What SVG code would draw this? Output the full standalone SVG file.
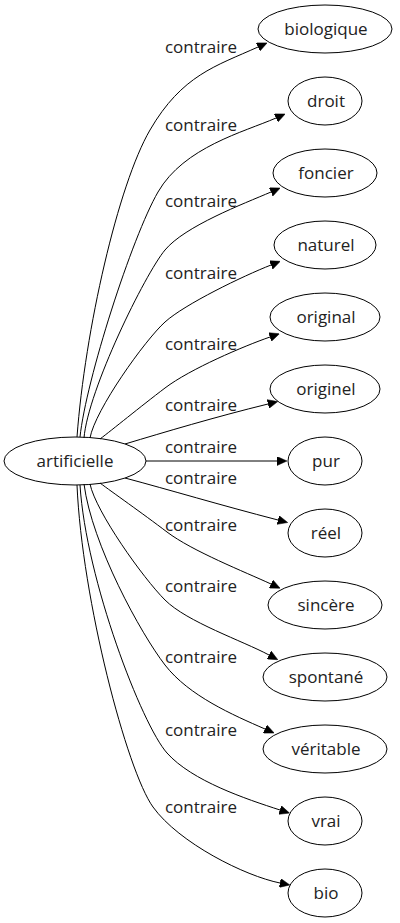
<svg xmlns="http://www.w3.org/2000/svg" width="400" height="923" viewBox="0 0 400 923">
<style>
  .node ellipse { fill: none; stroke: #000; stroke-width: 1; }
  text { font-family: "Open Sans", "DejaVu Sans", sans-serif; font-size: 17px; fill: #222; text-anchor: middle; }
  .edges path { fill: none; stroke: #000; stroke-width: 1; marker-end: url(#arrow); }
</style>
<defs>
  <marker id="arrow" markerUnits="userSpaceOnUse" viewBox="0 0 10 9" markerWidth="10" markerHeight="9" refX="0" refY="4.5" orient="auto">
    <path d="M0,0 L10,4.5 L0,9 z" fill="#000" stroke="#000" stroke-width="0.5"/>
  </marker>
</defs>
<rect width="400" height="923" fill="#fff"/>
<g class="edges" id="edges">
  <path d="M77,437 C85,330 118,185 150,130 S216,66 258,47"/>
  <path d="M80,437 C86,380 132,237 158,192 S244,132 276,118"/>
  <path d="M84,438 C88,390 145,274 165,250 S243,204 271,192"/>
  <path d="M90,438 C95,410 145,340 165,322 S243,276 271,265"/>
  <path d="M100,439 C112,430 140,407 165,388 S244,346 270,337"/>
  <path d="M125,444 C165,432 215,417 268,404"/>
  <path d="M146,461 L277,461"/>
  <path d="M125,478 C170,490 220,505 278,520"/>
  <path d="M100,483 C112,492 142,513 167,532 S245,572 271,584"/>
  <path d="M90,484 C96,512 143,578 165,600 S243,641 269,655"/>
  <path d="M84,484 C92,545 141,634 165,665 S233,715 265,729"/>
  <path d="M80,485 C86,580 142,725 167,753 S246,799 280,810"/>
  <path d="M77,485 C82,600 127,771 153,807 S245,876 280,883"/>
  <text x="201" y="53">contraire</text>
  <text x="201" y="131">contraire</text>
  <text x="201" y="207">contraire</text>
  <text x="201" y="279">contraire</text>
  <text x="201" y="350">contraire</text>
  <text x="201" y="411">contraire</text>
  <text x="201" y="453">contraire</text>
  <text x="201" y="484">contraire</text>
  <text x="201" y="531">contraire</text>
  <text x="201" y="592">contraire</text>
  <text x="201" y="663">contraire</text>
  <text x="201" y="736">contraire</text>
  <text x="201" y="813">contraire</text>
</g>
<g class="node" id="artificielle"><ellipse cx="75" cy="461" rx="71" ry="24"/><text x="75" y="467">artificielle</text></g>
<g class="node" id="biologique"><ellipse cx="325" cy="29" rx="67" ry="24"/><text x="326" y="35">biologique</text></g>
<g class="node" id="droit"><ellipse cx="325" cy="101" rx="37" ry="24"/><text x="326" y="107">droit</text></g>
<g class="node" id="foncier"><ellipse cx="325" cy="173" rx="52" ry="24"/><text x="326" y="179">foncier</text></g>
<g class="node" id="naturel"><ellipse cx="325" cy="245" rx="51" ry="24"/><text x="326" y="251">naturel</text></g>
<g class="node" id="original"><ellipse cx="325" cy="317" rx="55" ry="24"/><text x="326" y="323">original</text></g>
<g class="node" id="originel"><ellipse cx="325" cy="389" rx="55" ry="24"/><text x="326" y="395">originel</text></g>
<g class="node" id="pur"><ellipse cx="325" cy="461" rx="37" ry="24"/><text x="326" y="467">pur</text></g>
<g class="node" id="reel"><ellipse cx="325" cy="533" rx="37" ry="24"/><text x="326" y="539">réel</text></g>
<g class="node" id="sincere"><ellipse cx="325" cy="605" rx="57" ry="24"/><text x="326" y="611">sincère</text></g>
<g class="node" id="spontane"><ellipse cx="325" cy="677" rx="62" ry="24"/><text x="326" y="683">spontané</text></g>
<g class="node" id="veritable"><ellipse cx="325" cy="749" rx="62" ry="24"/><text x="326" y="755">véritable</text></g>
<g class="node" id="vrai"><ellipse cx="325" cy="821" rx="37" ry="24"/><text x="326" y="827">vrai</text></g>
<g class="node" id="bio"><ellipse cx="325" cy="893" rx="37" ry="24"/><text x="326" y="899">bio</text></g>
</svg>
